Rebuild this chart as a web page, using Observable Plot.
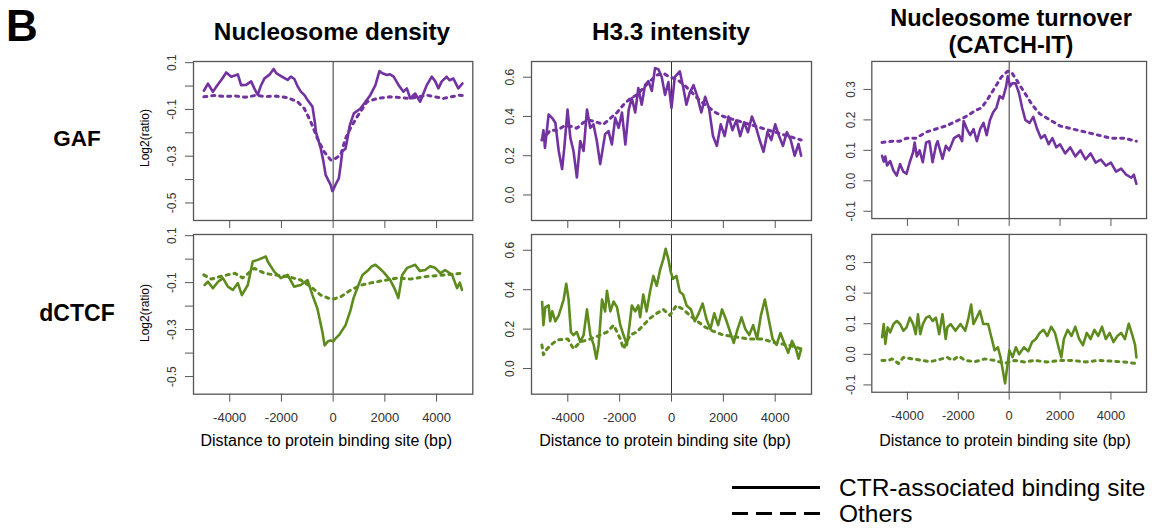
<!DOCTYPE html>
<html><head><meta charset="utf-8">
<script src="https://cdn.jsdelivr.net/npm/d3@7"></script>
<script src="https://cdn.jsdelivr.net/npm/@observablehq/plot@0.6"></script>
<style>
body{margin:0;background:#fff;}
#fig{position:relative;width:1152px;height:529px;overflow:hidden;font-family:"Liberation Sans",Arial,Helvetica,sans-serif;}
.panel{position:absolute;}
#overlay{position:absolute;left:0;top:0;pointer-events:none;}
</style></head>
<body><div id="fig"></div>
<script>
// ---------------- data ----------------
const xTicks = [-4000, -2000, 0, 2000, 4000];
const rowLabels = ["GAF", "dCTCF"];
const colTitles = [["Nucleosome density"], ["H3.3 intensity"], ["Nucleosome turnover", "(CATCH-IT)"]];
const xTitle = "Distance to protein binding site (bp)";
const yTitle = "Log2(ratio)";
const legendLabels = ["CTR-associated binding site", "Others"];

const densityTicks = [-0.5, -0.4, -0.3, -0.2, -0.1, 0.0, 0.1];
const densityTickLabels = [-0.5, -0.3, -0.1, 0.1];
const h33Ticks = [0.0, 0.2, 0.4, 0.6];
const turnoverTicks = [-0.1, 0.0, 0.1, 0.2, 0.3];

// GAF, nucleosome density
const gafDensityCtr = [[-5000,-0.02],[-4840,0.01],[-4650,-0.025],[-4500,0.0],[-4300,0.03],[-4135,0.058],[-3940,0.04],[-3800,0.045],[-3685,0.05],[-3560,0.004],[-3365,0.005],[-3170,0.02],[-3050,-0.01],[-2915,-0.038],[-2800,0.0],[-2660,0.032],[-2450,0.05],[-2300,0.073],[-2200,0.055],[-2080,0.047],[-1900,0.035],[-1760,0.026],[-1635,0.04],[-1500,0.03],[-1380,0.0],[-1250,-0.024],[-1100,-0.04],[-990,-0.06],[-800,-0.088],[-700,-0.16],[-670,-0.195],[-480,-0.267],[-380,-0.32],[-290,-0.38],[-200,-0.40],[-96,-0.423],[-30,-0.449],[0,-0.445],[100,-0.42],[220,-0.395],[300,-0.33],[354,-0.28],[480,-0.267],[560,-0.22],[646,-0.167],[800,-0.117],[1060,-0.096],[1250,-0.067],[1440,-0.038],[1635,0.004],[1790,0.064],[1900,0.055],[2085,0.047],[2200,0.05],[2340,0.04],[2530,0.004],[2720,-0.024],[2850,-0.01],[2980,-0.053],[3170,-0.032],[3365,-0.067],[3500,-0.03],[3620,0.004],[3815,0.04],[3950,0.02],[4070,-0.01],[4200,0.02],[4390,0.04],[4500,0.025],[4650,0.032],[4840,-0.01],[5000,0.011]];
const gafDensityOther = [[-5000,-0.046],[-4600,-0.04],[-4200,-0.045],[-3800,-0.042],[-3400,-0.048],[-3000,-0.04],[-2600,-0.045],[-2200,-0.043],[-1760,-0.05],[-1380,-0.067],[-1120,-0.095],[-865,-0.153],[-610,-0.224],[-354,-0.28],[-96,-0.316],[0,-0.316],[290,-0.295],[480,-0.224],[670,-0.18],[930,-0.131],[1315,-0.067],[1700,-0.053],[2210,-0.046],[2980,-0.053],[3620,-0.039],[4260,-0.053],[4900,-0.039],[5000,-0.04]];

// dCTCF, nucleosome density
const ctcfDensityCtr = [[-4970,-0.11],[-4840,-0.096],[-4650,-0.124],[-4450,-0.096],[-4260,-0.081],[-4070,-0.117],[-3880,-0.131],[-3685,-0.102],[-3530,-0.153],[-3300,-0.11],[-3110,-0.01],[-2915,-0.003],[-2600,0.011],[-2530,-0.01],[-2280,-0.053],[-2020,-0.081],[-1760,-0.067],[-1510,-0.117],[-1250,-0.11],[-990,-0.089],[-800,-0.153],[-610,-0.21],[-415,-0.31],[-330,-0.367],[-200,-0.35],[-96,-0.346],[0,-0.35],[96,-0.337],[250,-0.32],[480,-0.281],[673,-0.217],[788,-0.166],[980,-0.11],[1135,-0.067],[1365,-0.046],[1500,-0.03],[1635,-0.024],[1800,-0.04],[1940,-0.054],[2210,-0.089],[2400,-0.131],[2520,-0.166],[2670,-0.067],[2865,-0.037],[3170,-0.024],[3350,-0.05],[3560,-0.046],[3750,-0.03],[3940,-0.037],[4150,-0.06],[4330,-0.046],[4600,-0.067],[4790,-0.123],[4900,-0.1],[4980,-0.131]];
const ctcfDensityOther = [[-5000,-0.067],[-4700,-0.085],[-4400,-0.075],[-4100,-0.067],[-3800,-0.06],[-3500,-0.08],[-3050,-0.039],[-2660,-0.06],[-2280,-0.067],[-1760,-0.074],[-1250,-0.089],[-865,-0.117],[-480,-0.153],[-96,-0.17],[0,-0.17],[300,-0.16],[700,-0.13],[1100,-0.11],[1500,-0.1],[2000,-0.09],[2500,-0.08],[3000,-0.085],[3500,-0.075],[4000,-0.07],[4500,-0.065],[5000,-0.06]];

// GAF, H3.3 intensity
const gafH33Ctr = [[-4990,0.284],[-4940,0.33],[-4880,0.24],[-4740,0.41],[-4610,0.393],[-4480,0.368],[-4350,0.224],[-4220,0.132],[-4135,0.24],[-4010,0.435],[-3900,0.29],[-3780,0.224],[-3650,0.089],[-3520,0.275],[-3390,0.224],[-3260,0.435],[-3135,0.342],[-3010,0.36],[-2880,0.275],[-2750,0.157],[-2560,0.31],[-2430,0.325],[-2300,0.257],[-2170,0.393],[-2040,0.342],[-1910,0.42],[-1780,0.257],[-1650,0.435],[-1530,0.494],[-1400,0.42],[-1280,0.545],[-1150,0.46],[-1020,0.56],[-890,0.58],[-760,0.53],[-635,0.646],[-505,0.64],[-375,0.6],[-250,0.51],[-120,0.575],[0,0.443],[125,0.6],[320,0.63],[450,0.55],[575,0.46],[700,0.52],[850,0.56],[1000,0.5],[1150,0.42],[1300,0.5],[1450,0.44],[1600,0.3],[1750,0.25],[1900,0.36],[2050,0.3],[2200,0.4],[2350,0.33],[2500,0.38],[2650,0.3],[2800,0.37],[2950,0.32],[3100,0.4],[3250,0.35],[3400,0.28],[3550,0.22],[3700,0.32],[3850,0.28],[4000,0.36],[4150,0.3],[4300,0.25],[4450,0.32],[4600,0.28],[4750,0.2],[4900,0.26],[5000,0.2]];
const gafH33Other = [[-5000,0.28],[-4670,0.33],[-4400,0.33],[-4160,0.35],[-3900,0.35],[-3646,0.34],[-3390,0.37],[-3130,0.38],[-2877,0.37],[-2620,0.36],[-2360,0.39],[-2100,0.42],[-1850,0.46],[-1600,0.49],[-1340,0.51],[-1085,0.545],[-830,0.58],[-570,0.61],[-310,0.62],[-60,0.6],[200,0.59],[500,0.56],[800,0.52],[1100,0.48],[1400,0.45],[1700,0.42],[2000,0.4],[2500,0.38],[3000,0.36],[3500,0.34],[4000,0.32],[4500,0.3],[5000,0.28]];

// dCTCF, H3.3 intensity
const ctcfH33Ctr = [[-4990,0.337],[-4940,0.22],[-4870,0.31],[-4740,0.32],[-4680,0.24],[-4600,0.29],[-4480,0.24],[-4350,0.27],[-4160,0.35],[-4060,0.43],[-3970,0.35],[-3880,0.185],[-3780,0.17],[-3650,0.185],[-3520,0.135],[-3390,0.17],[-3260,0.3],[-3130,0.17],[-3000,0.12],[-2900,0.05],[-2810,0.12],[-2680,0.35],[-2560,0.29],[-2490,0.395],[-2360,0.29],[-2230,0.34],[-2100,0.31],[-1975,0.22],[-1850,0.17],[-1720,0.12],[-1620,0.22],[-1530,0.32],[-1400,0.29],[-1280,0.32],[-1210,0.26],[-1090,0.375],[-960,0.29],[-830,0.39],[-700,0.47],[-570,0.42],[-440,0.5],[-315,0.555],[-225,0.607],[-120,0.555],[-30,0.49],[60,0.455],[190,0.47],[320,0.39],[450,0.375],[580,0.32],[750,0.3],[900,0.24],[1050,0.28],[1200,0.33],[1350,0.25],[1500,0.2],[1650,0.28],[1800,0.22],[1950,0.3],[2100,0.25],[2250,0.19],[2400,0.13],[2550,0.2],[2700,0.26],[2850,0.2],[3000,0.17],[3150,0.22],[3300,0.15],[3450,0.27],[3600,0.35],[3750,0.25],[3900,0.15],[4050,0.12],[4200,0.18],[4350,0.13],[4500,0.08],[4650,0.14],[4800,0.1],[4900,0.05],[5000,0.1]];
const ctcfH33Other = [[-5000,0.12],[-4940,0.07],[-4800,0.1],[-4600,0.125],[-4420,0.145],[-4000,0.15],[-3780,0.1],[-3520,0.135],[-3130,0.15],[-2750,0.17],[-2490,0.185],[-2230,0.22],[-1975,0.15],[-1850,0.1],[-1600,0.17],[-1340,0.185],[-1085,0.22],[-830,0.255],[-570,0.28],[-315,0.3],[-60,0.27],[190,0.32],[450,0.3],[700,0.27],[1000,0.24],[1300,0.21],[1600,0.19],[2000,0.17],[2500,0.16],[3000,0.15],[3500,0.15],[4000,0.13],[4500,0.12],[5000,0.1]];

// GAF, nucleosome turnover
const gafTurnCtr = [[-4996,0.082],[-4930,0.063],[-4870,0.08],[-4800,0.05],[-4680,0.065],[-4550,0.034],[-4420,0.017],[-4290,0.055],[-4160,0.03],[-4035,0.023],[-3910,0.061],[-3780,0.093],[-3715,0.126],[-3630,0.08],[-3520,0.1],[-3396,0.061],[-3265,0.126],[-3135,0.13],[-3010,0.061],[-2880,0.115],[-2815,0.13],[-2620,0.072],[-2490,0.115],[-2360,0.1],[-2170,0.14],[-1975,0.15],[-1850,0.13],[-1790,0.196],[-1660,0.17],[-1530,0.15],[-1400,0.17],[-1270,0.13],[-1140,0.17],[-1010,0.19],[-885,0.15],[-755,0.2],[-630,0.225],[-500,0.24],[-375,0.278],[-250,0.27],[-120,0.31],[-60,0.343],[40,0.31],[120,0.32],[250,0.32],[380,0.29],[510,0.24],[635,0.2],[800,0.19],[950,0.21],[1100,0.17],[1250,0.14],[1400,0.15],[1550,0.12],[1700,0.14],[1850,0.11],[2000,0.12],[2200,0.09],[2400,0.11],[2600,0.08],[2800,0.1],[3000,0.07],[3200,0.09],[3400,0.06],[3600,0.07],[3800,0.05],[4000,0.06],[4200,0.03],[4400,0.04],[4600,0.02],[4800,0.01],[4900,0.02],[5000,-0.01]];
const gafTurnOther = [[-5000,0.126],[-4600,0.13],[-4300,0.13],[-4035,0.14],[-3650,0.14],[-3265,0.16],[-2880,0.17],[-2490,0.18],[-2100,0.195],[-1720,0.21],[-1340,0.23],[-1080,0.24],[-830,0.27],[-570,0.305],[-315,0.34],[-60,0.36],[100,0.355],[300,0.33],[600,0.29],[900,0.25],[1200,0.22],[1600,0.2],[2000,0.18],[2500,0.17],[3000,0.16],[3500,0.15],[4000,0.14],[4500,0.14],[5000,0.13]];

// dCTCF, nucleosome turnover
const ctcfTurnCtr = [[-4996,0.056],[-4932,0.099],[-4868,0.034],[-4778,0.088],[-4675,0.072],[-4547,0.099],[-4418,0.109],[-4290,0.099],[-4162,0.077],[-4033,0.088],[-3905,0.12],[-3777,0.099],[-3674,0.066],[-3585,0.131],[-3495,0.066],[-3392,0.099],[-3264,0.12],[-3136,0.125],[-3008,0.109],[-2879,0.12],[-2751,0.066],[-2623,0.131],[-2495,0.05],[-2431,0.088],[-2303,0.099],[-2110,0.077],[-1918,0.099],[-1726,0.077],[-1597,0.12],[-1495,0.163],[-1405,0.099],[-1277,0.12],[-1149,0.142],[-1020,0.099],[-828,0.099],[-700,0.056],[-572,0.013],[-444,0.023],[-341,-0.009],[-251,-0.052],[-162,-0.095],[-59,-0.03],[5,0.013],[133,-0.009],[262,0.023],[390,0.0],[582,0.023],[750,0.01],[900,0.04],[1050,0.05],[1200,0.07],[1350,0.08],[1500,0.06],[1650,0.09],[1800,0.07],[1950,0.02],[2050,-0.01],[2150,0.05],[2300,0.08],[2450,0.06],[2600,0.09],[2750,0.05],[2900,0.03],[3050,0.07],[3200,0.05],[3350,0.08],[3500,0.06],[3650,0.09],[3800,0.05],[3950,0.07],[4100,0.04],[4250,0.06],[4400,0.07],[4550,0.05],[4700,0.1],[4850,0.06],[4950,0.03],[5000,-0.01]];
const ctcfTurnOther = [[-5000,-0.02],[-4740,-0.02],[-4600,-0.015],[-4350,-0.03],[-4160,-0.01],[-3780,-0.015],[-3390,-0.02],[-3140,-0.024],[-2880,-0.02],[-2430,-0.01],[-2240,-0.02],[-1980,-0.006],[-1730,-0.02],[-1340,-0.024],[-960,-0.015],[-570,-0.02],[-190,-0.03],[200,-0.02],[600,-0.025],[1000,-0.02],[1500,-0.025],[2000,-0.02],[2500,-0.02],[3000,-0.025],[3500,-0.02],[4000,-0.022],[4500,-0.025],[5000,-0.03]];

// ---------------- layout / style ----------------
const FONT = '"Liberation Sans", Arial, Helvetica, sans-serif';
const PURPLE = "#7232a0";
const GREEN = "#5e8b1e";
const colBox = [[192.7, 472], [531, 811], [872, 1150]];
const rowBox = [[61, 220], [234.3, 394]];
const yDomains = [[-0.575, 0.105], [-0.13, 0.68], [-0.124, 0.392]];
const yTickSets = [densityTicks, h33Ticks, turnoverTicks];
const yLabelSets = [densityTickLabels, h33Ticks, turnoverTicks];
const series = [
  [[gafDensityCtr, gafDensityOther], [gafH33Ctr, gafH33Other], [gafTurnCtr, gafTurnOther]],
  [[ctcfDensityCtr, ctcfDensityOther], [ctcfH33Ctr, ctcfH33Other], [ctcfTurnCtr, ctcfTurnOther]]
];
const rowColors = [PURPLE, GREEN];

const fig = document.getElementById("fig");
const mL = 60, mR = 6, mT = 6, mB = 40;

for (let r = 0; r < 2; r++) {
  for (let c = 0; c < 3; c++) {
    const [x0, x1] = colBox[c];
    const [y0, y1] = rowBox[r];
    const [solid, dotted] = series[r][c];
    const color = rowColors[r];
    const marks = [
      Plot.ruleX([0], {stroke: "#333", strokeWidth: 1}),
      Plot.line(dotted, {x: d => d[0], y: d => d[1], stroke: color, strokeWidth: 3, strokeDasharray: "3,5"}),
      Plot.line(solid, {x: d => d[0], y: d => d[1], stroke: color, strokeWidth: 2.6, strokeLinejoin: "round"}),
      Plot.frame({stroke: "#555", strokeWidth: 1.3}),
      Plot.axisX(xTicks, {tickSize: 8, label: null, stroke: "#555", tickFormat: () => ""}),
      Plot.axisY(yTickSets[c], {tickSize: 8, label: null, stroke: "#555", tickFormat: () => ""}),
      // rotated y tick labels (R style, parallel to axis)
      Plot.text(yLabelSets[c], {y: d => d, text: d => d.toFixed(1), frameAnchor: "left", dx: -21,
        rotate: -90, textAnchor: "middle", lineAnchor: "middle", fontSize: 12, fill: "#333"})
    ];
    if (r === 1) {
      marks.push(Plot.text(xTicks, {x: d => d, text: d => String(d), frameAnchor: "bottom", dy: 24,
        textAnchor: "middle", lineAnchor: "middle", fontSize: 13, fill: "#333"}));
    }
    const chart = Plot.plot({
      width: (x1 - x0) + mL + mR,
      height: (y1 - y0) + mT + mB,
      marginLeft: mL, marginRight: mR, marginTop: mT, marginBottom: mB,
      style: {background: "transparent", fontFamily: FONT, color: "#222", overflow: "visible"},
      x: {domain: [-5400, 5400]},
      y: {domain: yDomains[c]},
      marks
    });
    const holder = document.createElement("div");
    holder.className = "panel";
    holder.style.left = (x0 - mL) + "px";
    holder.style.top = (y0 - mT) + "px";
    holder.appendChild(chart);
    fig.appendChild(holder);
  }
}

// ---------------- overlay text & legend ----------------
const svgNS = "http://www.w3.org/2000/svg";
const ov = document.createElementNS(svgNS, "svg");
ov.setAttribute("id", "overlay");
ov.setAttribute("width", 1152);
ov.setAttribute("height", 529);
ov.style.fontFamily = FONT;
fig.appendChild(ov);
function txt(s, x, y, opts = {}) {
  const t = document.createElementNS(svgNS, "text");
  t.textContent = s;
  t.setAttribute("x", x);
  t.setAttribute("y", y);
  t.setAttribute("font-size", opts.size || 12);
  t.setAttribute("font-weight", opts.bold ? "bold" : "normal");
  t.setAttribute("text-anchor", opts.anchor || "middle");
  t.setAttribute("fill", opts.fill || "#000");
  if (opts.rotate) t.setAttribute("transform", `rotate(${opts.rotate},${x},${y})`);
  if (opts.baseline) t.setAttribute("dominant-baseline", opts.baseline);
  ov.appendChild(t);
}
function line(x1, y1, x2, y2, dash) {
  const l = document.createElementNS(svgNS, "line");
  l.setAttribute("x1", x1); l.setAttribute("y1", y1);
  l.setAttribute("x2", x2); l.setAttribute("y2", y2);
  l.setAttribute("stroke", "#000"); l.setAttribute("stroke-width", 3.2);
  if (dash) l.setAttribute("stroke-dasharray", dash);
  ov.appendChild(l);
}
txt("B", 6, 41, {size: 44, bold: true, anchor: "start"});
// column titles
txt(colTitles[0][0], 332, 40, {size: 24.3, bold: true});
txt(colTitles[1][0], 671, 40, {size: 24.3, bold: true});
txt(colTitles[2][0], 1011, 26, {size: 23.5, bold: true});
txt(colTitles[2][1], 1011, 53, {size: 23.5, bold: true});
// row labels
txt(rowLabels[0], 77, 146, {size: 22.5, bold: true});
txt(rowLabels[1], 77, 321, {size: 23, bold: true});
// y titles
txt(yTitle, 145, 138, {size: 12, rotate: -90, baseline: "central"});
txt(yTitle, 145, 313, {size: 12, rotate: -90, baseline: "central"});
// x titles
for (let c = 0; c < 3; c++) {
  txt(xTitle, (colBox[c][0] + colBox[c][1]) / 2 - 6, 446, {size: 16});
}
// legend
line(732, 487.5, 820, 487.5);
line(732, 513.5, 820, 513.5, "16,8");
txt(legendLabels[0], 839, 495.5, {size: 24.5, anchor: "start"});
txt(legendLabels[1], 839, 522, {size: 24.5, anchor: "start"});
</script>
</body></html>
